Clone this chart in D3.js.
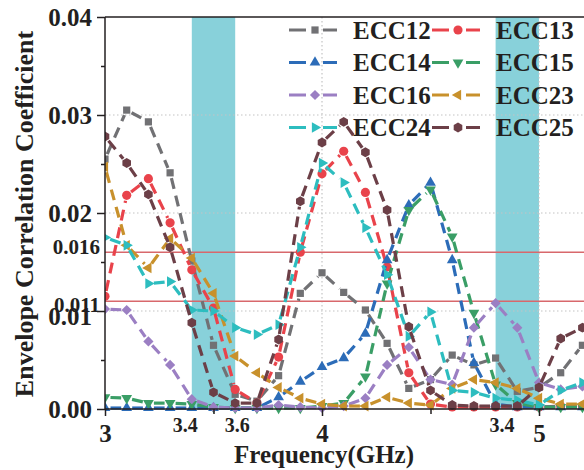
<!DOCTYPE html>
<html lang="en">
<head>
<meta charset="utf-8">
<style>
    body { margin: 0; background: #fff; }
    svg text {
        font-family: "Liberation Serif", "Times New Roman", serif;
        font-weight: bold;
        fill: #231f20;
    }
    .axis path, .axis line { stroke: #231f20; stroke-width: 1.5; }
    .grid { stroke: #c4c4c4; stroke-width: 1.2; stroke-dasharray: 1.5,2.5; }
</style>
</head>
<body>
<svg width="584" height="470"></svg>
<script src="https://cdnjs.cloudflare.com/ajax/libs/d3/7.8.5/d3.min.js"></script>
<script>

// frequency samples (GHz)
var freq = [3.0, 3.1, 3.2, 3.3, 3.4, 3.5, 3.6, 3.7, 3.8, 3.9, 4.0, 4.1,
            4.2, 4.3, 4.4, 4.5, 4.6, 4.7, 4.8, 4.9, 5.0, 5.1, 5.2];

var ecc12 = [0.0255, 0.0305, 0.0293, 0.0241, 0.0151, 0.0065, 0.0015, 0.0008, 0.0034, 0.0118, 0.0139, 0.0119,
             0.0101, 0.0067, 0.0021, 0.0030, 0.0055, 0.0045, 0.0052, 0.0018, 0.0022, 0.0037, 0.0065];
var ecc13 = [0.0115, 0.0218, 0.0235, 0.0190, 0.0142, 0.0103, 0.0020, 0.0006, 0.0053, 0.0160, 0.0240, 0.0263,
             0.0221, 0.0145, 0.0037, 0.0005, 0.0002, 0.0002, 0.0002, 0.0002, 0.0002, 0.0003, 0.0003];
var ecc14 = [0.0001, 0.0001, 0.0001, 0.0001, 0.0001, 0.0001, 0.0001, 0.0001, 0.0012, 0.0028, 0.0043, 0.0052,
             0.0077, 0.0152, 0.0208, 0.0231, 0.0152, 0.0047, 0.0005, 0.0002, 0.0002, 0.0002, 0.0002];
var ecc15 = [0.0012, 0.0011, 0.0006, 0.0006, 0.0005, 0.0002, 0.0001, 0.0001, 0.0001, 0.0001, 0.0003, 0.0006,
             0.0033, 0.0128, 0.0203, 0.0224, 0.0176, 0.0098, 0.0025, 0.0006, 0.0002, 0.0002, 0.0002];
var ecc16 = [0.0102, 0.0101, 0.0069, 0.0045, 0.0010, 0.0002, 0.0001, 0.0001, 0.0004, 0.0002, 0.0001, 0.0003,
             0.0011, 0.0045, 0.0063, 0.0030, 0.0025, 0.0083, 0.0108, 0.0083, 0.0027, 0.0020, 0.0023];
var ecc23 = [0.0247, 0.0167, 0.0144, 0.0174, 0.0154, 0.0118, 0.0054, 0.0037, 0.0022, 0.0011, 0.0005, 0.0003,
             0.0003, 0.0012, 0.0006, 0.0004, 0.0021, 0.0030, 0.0027, 0.0021, 0.0011, 0.0005, 0.0005];
var ecc24 = [0.0175, 0.0167, 0.0128, 0.0130, 0.0101, 0.0100, 0.0083, 0.0076, 0.0086, 0.0165, 0.0251, 0.0231,
             0.0185, 0.0137, 0.0074, 0.0099, 0.0019, 0.0017, 0.0011, 0.0009, 0.0004, 0.0019, 0.0027];
var ecc25 = [0.0278, 0.0251, 0.0219, 0.0165, 0.0088, 0.0017, 0.0006, 0.0006, 0.0071, 0.0212, 0.0272, 0.0293,
             0.0262, 0.0203, 0.0084, 0.0019, 0.0004, 0.0003, 0.0003, 0.0003, 0.0022, 0.0072, 0.0083];

var seriesNames = ["ECC12", "ECC13", "ECC14", "ECC15", "ECC16", "ECC23", "ECC24", "ECC25"];
var seriesValues = [ecc12, ecc13, ecc14, ecc15, ecc16, ecc23, ecc24, ecc25];
var seriesColors = ["#717174", "#e9434b", "#2c6cb8", "#3a9e66", "#9b7fc3", "#c8912c", "#2dbdbf", "#6c3f47"];
var seriesMarkers = ["square", "circle", "triUp", "triDown", "diamond", "triLeft", "triRight", "hexagon"];

// shaded bands and threshold lines
var bands = [[3.4, 3.6], [4.8, 5.0]];
var thresholds = [0.016, 0.011];
var thresholdLabels = ["0.016", "0.011"];

// tick labels
var xTicks = [3, 3.5, 4, 4.5, 5];
var yTicks = [0, 0.005, 0.01, 0.015, 0.02, 0.025, 0.03, 0.035, 0.04];
var bandLabelPos = [3.37, 3.61, 4.83];
var bandLabels = ["3.4", "3.6", "3.4"];

var svg = d3.select("svg");
var mLeft = 105, mRight = 584, mTop = 17, mBottom = 409;

var x = d3.scaleLinear().domain([3, 5]).range([mLeft, 539]);
var y = d3.scaleLinear().domain([0, 0.04]).range([mBottom, mTop]);

svg.append("defs").append("clipPath").attr("id", "clip")
    .append("rect").attr("x", mLeft).attr("y", mTop - 8).attr("width", mRight - mLeft + 10).attr("height", mBottom - mTop + 16);

// bands
svg.append("g").selectAll("rect")
    .data(bands).enter().append("rect")
    .attr("x", function (d) { return x(d[0]); })
    .attr("width", function (d) { return x(d[1]) - x(d[0]); })
    .attr("y", mTop)
    .attr("height", mBottom - mTop)
    .attr("fill", "#88d1da");

// grid
svg.append("g").selectAll("line")
    .data([0.01, 0.02, 0.03]).enter().append("line")
    .attr("class", "grid")
    .attr("x1", mLeft).attr("x2", mRight)
    .attr("y1", function (d) { return y(d); })
    .attr("y2", function (d) { return y(d); });
svg.append("g").selectAll("line")
    .data([4, 5]).enter().append("line")
    .attr("class", "grid")
    .attr("x1", function (d) { return x(d); })
    .attr("x2", function (d) { return x(d); })
    .attr("y1", mTop).attr("y2", mBottom);

// threshold lines
svg.append("g").selectAll("line")
    .data(thresholds).enter().append("line")
    .attr("x1", mLeft).attr("x2", mRight)
    .attr("y1", function (d) { return y(d); })
    .attr("y2", function (d) { return y(d); })
    .attr("stroke", "#d8686c")
    .attr("stroke-width", 1.5);

// marker shapes
var hexagon = {
    draw: function (context, size) {
        var r = Math.sqrt(size * 2 / (3 * Math.sqrt(3)));
        for (var i = 0; i < 6; i++) {
            var a = Math.PI / 3 * i + Math.PI / 6;
            if (i === 0) context.moveTo(r * Math.cos(a), r * Math.sin(a));
            else context.lineTo(r * Math.cos(a), r * Math.sin(a));
        }
        context.closePath();
    }
};
var markerDefs = {
    square:   { type: d3.symbolSquare, size: 52, rot: 0 },
    circle:   { type: d3.symbolCircle, size: 66, rot: 0 },
    triUp:    { type: d3.symbolTriangle, size: 50, rot: 0 },
    triDown:  { type: d3.symbolTriangle, size: 50, rot: 180 },
    diamond:  { type: d3.symbolSquare, size: 52, rot: 45 },
    triLeft:  { type: d3.symbolTriangle, size: 50, rot: -90 },
    triRight: { type: d3.symbolTriangle, size: 50, rot: 90 },
    hexagon:  { type: hexagon, size: 64, rot: 0 }
};

function drawMarker(sel, name, color) {
    var m = markerDefs[name];
    sel.append("path")
        .attr("d", d3.symbol().type(m.type).size(m.size))
        .attr("fill", color)
        .attr("transform", function (d) {
            return "translate(" + d[0] + "," + d[1] + ") rotate(" + m.rot + ")";
        });
}

// series: dashed segments with a gap around each symbol
var gap = 5.5;
var plot = svg.append("g").attr("clip-path", "url(#clip)");

seriesValues.forEach(function (vals, si) {
    var pts = freq.map(function (f, i) { return [x(f), y(vals[i])]; });
    var segs = [];
    for (var i = 0; i < pts.length - 1; i++) {
        var dx = pts[i + 1][0] - pts[i][0], dy = pts[i + 1][1] - pts[i][1];
        var len = Math.sqrt(dx * dx + dy * dy);
        if (len < 2 * gap + 2) continue;
        var ux = dx / len, uy = dy / len;
        segs.push([[pts[i][0] + ux * gap, pts[i][1] + uy * gap],
                   [pts[i + 1][0] - ux * gap, pts[i + 1][1] - uy * gap]]);
    }
    var g = plot.append("g");
    g.selectAll("path.seg")
        .data(segs).enter().append("path")
        .attr("class", "seg")
        .attr("d", function (d) { return d3.line()(d); })
        .attr("fill", "none")
        .attr("stroke", seriesColors[si])
        .attr("stroke-width", 3.2)
        .attr("stroke-dasharray", "11,7");
    var mk = g.selectAll("g.mk").data(pts).enter().append("g").attr("class", "mk");
    drawMarker(mk, seriesMarkers[si], seriesColors[si]);
});

// axes
var xAxis = svg.append("g")
    .attr("class", "axis")
    .attr("transform", "translate(0," + mBottom + ")")
    .call(d3.axisBottom(x).tickValues(xTicks).tickSize(7).tickPadding(8)
        .tickFormat(function (d) { return d % 1 === 0 ? d : ""; }));
xAxis.select(".domain").attr("d", "M" + mLeft + ",0H" + mRight);
xAxis.selectAll(".tick line").attr("y2", function (d) { return d % 1 === 0 ? 7 : 5; });
xAxis.selectAll(".tick text").attr("font-size", 25);

var yAxis = svg.append("g")
    .attr("class", "axis")
    .attr("transform", "translate(" + mLeft + ",0)")
    .call(d3.axisLeft(y).tickValues(yTicks).tickSize(8).tickPadding(5)
        .tickFormat(function (d, i) { return i % 2 === 0 ? d3.format(".2f")(d) : ""; }));
yAxis.select(".domain").attr("d", "M0," + mBottom + "V" + mTop);
yAxis.selectAll(".tick line").attr("x2", function (d, i) { return i % 2 === 0 ? -8 : -4; });
yAxis.selectAll(".tick text").attr("font-size", 25)
    .attr("dy", function (d) { return d === 0.01 ? "0.55em" : "0.35em"; });

// top frame line
svg.append("line")
    .attr("x1", mLeft).attr("x2", mRight)
    .attr("y1", mTop).attr("y2", mTop)
    .attr("stroke", "#231f20").attr("stroke-width", 1.5);

// threshold labels
svg.append("g").selectAll("text")
    .data(thresholds).enter().append("text")
    .attr("x", mLeft - 5)
    .attr("y", function (d, i) { return y(d) + (i === 0 ? 2 : 11); })
    .attr("text-anchor", "end")
    .attr("font-size", 21)
    .text(function (d, i) { return thresholdLabels[i]; });

// band edge labels
svg.append("g").selectAll("text")
    .data(bandLabelPos).enter().append("text")
    .attr("x", function (d) { return x(d); })
    .attr("y", 432)
    .attr("text-anchor", "middle")
    .attr("font-size", 20)
    .text(function (d, i) { return bandLabels[i]; });

// axis titles
svg.append("text")
    .attr("x", 324).attr("y", 463)
    .attr("text-anchor", "middle")
    .attr("font-size", 25)
    .text("Frequency(GHz)");

svg.append("text")
    .attr("transform", "translate(33,214) rotate(-90)")
    .attr("text-anchor", "middle")
    .attr("font-size", 26)
    .text("Envelope Correlation Coefficient");

// legend
var legend = svg.append("g");
seriesNames.forEach(function (name, i) {
    var row = Math.floor(i / 2), col = i % 2;
    var x0 = col === 0 ? 289 : 432;
    var yy = 30 + row * 32.5;
    var lg = legend.append("g");
    [[x0, x0 + 17], [x0 + 34, x0 + 48]].forEach(function (s) {
        lg.append("line")
            .attr("x1", s[0]).attr("x2", s[1])
            .attr("y1", yy).attr("y2", yy)
            .attr("stroke", seriesColors[i])
            .attr("stroke-width", 3);
    });
    var mk = lg.selectAll("g").data([[x0 + 26, yy]]).enter().append("g");
    drawMarker(mk, seriesMarkers[i], seriesColors[i]);
    lg.append("text")
        .attr("x", x0 + 64).attr("y", yy + 8.5)
        .attr("font-size", 25)
        .text(name);
});

</script>
</body>
</html>
